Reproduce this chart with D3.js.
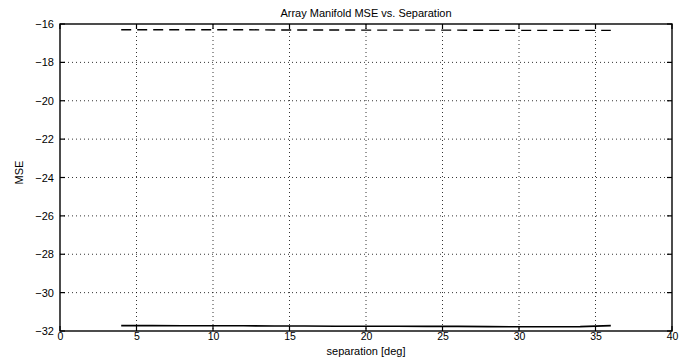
<!DOCTYPE html>
<html><head><meta charset="utf-8">
<script src="https://cdn.jsdelivr.net/npm/d3@7"></script>
<style>body{margin:0;background:#fff}svg{display:block}text{font-family:"Liberation Sans",Arial,sans-serif}</style>
</head><body><svg id="c" width="689" height="357"></svg>
<script>
const separation = [4,6,8,10,12,14,16,18,20,22,24,26,28,30,32,34,36];
const mseDashed = [-16.30,-16.30,-16.30,-16.30,-16.30,-16.31,-16.31,-16.31,-16.32,-16.32,-16.32,-16.32,-16.33,-16.33,-16.33,-16.33,-16.33];
const mseSolid = [-31.72,-31.72,-31.73,-31.73,-31.73,-31.74,-31.74,-31.75,-31.75,-31.75,-31.76,-31.76,-31.77,-31.78,-31.78,-31.77,-31.72];
const xTicks = [0,5,10,15,20,25,30,35,40];
const yTicks = [-16,-18,-20,-22,-24,-26,-28,-30,-32];

const svg = d3.select("#c");
const L=60,R=672,T=24,B=331;
const x = d3.scaleLinear().domain([0,40]).range([L,R]);
const y = d3.scaleLinear().domain([-32,-16]).range([B,T]);

// grid
const g = svg.append("g");
g.selectAll(".gx").data(xTicks.slice(1,-1)).join("line")
 .attr("x1",d=>x(d)).attr("x2",d=>x(d)).attr("y1",T).attr("y2",B)
 .attr("stroke","#000").attr("stroke-width",0.8).attr("stroke-dasharray","1,3");
g.selectAll(".gy").data(yTicks.slice(1,-1)).join("line")
 .attr("y1",d=>y(d)).attr("y2",d=>y(d)).attr("x1",L).attr("x2",R)
 .attr("stroke","#000").attr("stroke-width",0.8).attr("stroke-dasharray","1,3");

// axes
const fmt = d=>String(d).replace("-","\u2212");
const ax = svg.append("g").attr("transform",`translate(0,${B})`).call(d3.axisBottom(x).tickValues(xTicks).tickSize(0).tickPadding(2));
const ay = svg.append("g").attr("transform",`translate(${L},0)`).call(d3.axisLeft(y).tickValues(yTicks).tickSize(0).tickPadding(6).tickFormat(fmt));
[ax,ay].forEach(a=>{a.select(".domain").remove();a.selectAll("text").attr("fill","#000").attr("font-family","Liberation Sans, Arial, sans-serif");});
ax.selectAll("text").attr("font-size",10.5).attr("dy","0.71em");
ay.selectAll("text").attr("font-size",11);

// inner ticks
const tl=5;
svg.append("g").selectAll("line").data(xTicks).join("line").attr("x1",d=>x(d)).attr("x2",d=>x(d)).attr("y1",B).attr("y2",B-tl).attr("stroke","#000").attr("stroke-width",1.2);
svg.append("g").selectAll("line").data(xTicks).join("line").attr("x1",d=>x(d)).attr("x2",d=>x(d)).attr("y1",T).attr("y2",T+tl).attr("stroke","#000").attr("stroke-width",1.2);
svg.append("g").selectAll("line").data(yTicks).join("line").attr("y1",d=>y(d)).attr("y2",d=>y(d)).attr("x1",L).attr("x2",L+tl).attr("stroke","#000").attr("stroke-width",1.2);
svg.append("g").selectAll("line").data(yTicks).join("line").attr("y1",d=>y(d)).attr("y2",d=>y(d)).attr("x1",R).attr("x2",R-tl).attr("stroke","#000").attr("stroke-width",1.2);

svg.append("rect").attr("x",L).attr("y",T).attr("width",R-L).attr("height",B-T).attr("fill","none").attr("stroke","#000").attr("stroke-width",1.4);

const line = d3.line().x((d,i)=>x(separation[i])).y(d=>y(d));
svg.append("path").datum(mseDashed).attr("d",line).attr("fill","none").attr("stroke","#000").attr("stroke-width",1.4).attr("stroke-dasharray","10,6");
svg.append("path").datum(mseSolid).attr("d",line).attr("fill","none").attr("stroke","#000").attr("stroke-width",1.6);

svg.append("text").attr("x",(L+R)/2).attr("y",17).attr("text-anchor","middle").attr("font-size",11).text("Array Manifold MSE vs. Separation");
svg.append("text").attr("x",(L+R)/2).attr("y",355).attr("text-anchor","middle").attr("font-size",11).text("separation [deg]");
svg.append("text").attr("transform",`translate(23,${(T+B)/2-5}) rotate(-90)`).attr("text-anchor","middle").attr("font-size",11).text("MSE");
</script></body></html>
